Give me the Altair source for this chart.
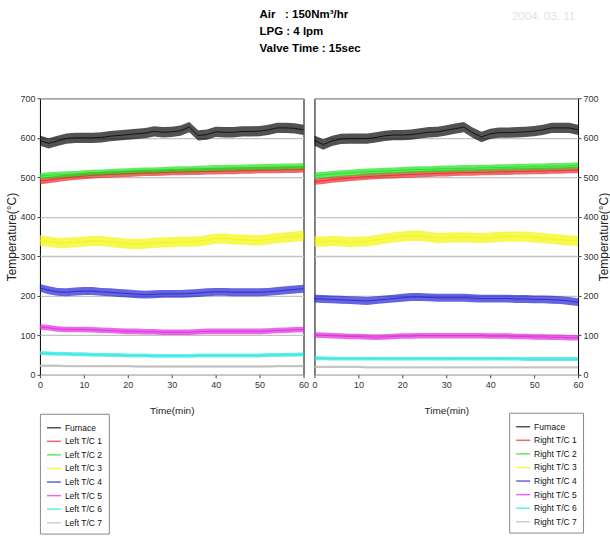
import altair as alt
import pandas as pd

# ---------------- data ----------------
TIME = [0, 2, 4, 6, 8, 10, 12, 14, 16, 18, 20, 22, 24, 26, 28, 30,
        32, 34, 36, 38, 40, 42, 44, 46, 48, 50, 52, 54, 56, 58, 60]

LEFT_NAMES = ["Furnace", "Left T/C 1", "Left T/C 2", "Left T/C 3",
              "Left T/C 4", "Left T/C 5", "Left T/C 6", "Left T/C 7"]
RIGHT_NAMES = ["Furnace", "Right T/C 1", "Right T/C 2", "Right T/C 3",
               "Right T/C 4", "Right T/C 5", "Right T/C 6", "Right T/C 7"]
COLORS = ["#000000", "#e82424", "#18e018", "#f4f400",
          "#1c1cd0", "#e020e0", "#20e4e4", "#b8b8b8"]
# half thickness of the oscillation band of each series (deg C)
SPREAD = [13, 8, 8, 13, 10, 7, 5, 3]

left_furnace = [593, 586, 592, 598, 600, 600, 600, 601, 604, 606, 608, 610, 612, 616, 614, 615,
                618, 627, 606, 608, 615, 614, 614, 616, 616, 617, 620, 625, 625, 624, 620]
left_tc1 = [490, 493, 496, 499, 501, 503, 505, 506, 507, 508, 509, 510, 511, 511, 512, 513,
            513, 514, 514, 515, 515, 516, 516, 517, 517, 518, 518, 518, 519, 519, 520]
left_tc2 = [503, 505, 506, 507, 508, 510, 511, 512, 513, 514, 515, 516, 517, 517, 518, 519,
            520, 520, 521, 522, 523, 523, 524, 524, 525, 525, 526, 526, 527, 527, 528]
left_tc3 = [340, 337, 334, 334, 336, 337, 339, 339, 336, 334, 332, 331, 332, 334, 335, 336,
            337, 337, 338, 341, 345, 345, 343, 342, 341, 340, 343, 346, 348, 350, 352]
left_tc4 = [220, 214, 210, 209, 211, 212, 212, 210, 209, 207, 206, 204, 203, 204, 205, 205,
            205, 206, 207, 209, 210, 210, 209, 209, 209, 209, 210, 212, 214, 216, 218]
left_tc5 = [121, 119, 116, 115, 115, 115, 114, 113, 112, 111, 110, 110, 109, 109, 108, 108,
            108, 108, 109, 110, 110, 110, 110, 110, 110, 110, 111, 112, 113, 114, 115]
left_tc6 = [55, 54, 53, 53, 52, 52, 51, 51, 50, 50, 49, 49, 49, 48, 48, 48,
            48, 48, 49, 49, 49, 49, 49, 49, 49, 49, 50, 50, 51, 51, 52]
left_tc7 = [23, 23, 23, 22, 22, 22, 22, 22, 22, 22, 22, 21, 21, 21, 21, 21,
            21, 21, 21, 21, 21, 21, 21, 21, 21, 21, 21, 22, 22, 22, 22]

right_furnace = [593, 583, 592, 597, 598, 598, 598, 601, 605, 607, 607, 608, 611, 614, 615, 619,
                 623, 627, 613, 602, 610, 613, 613, 614, 615, 617, 620, 625, 625, 625, 620]
right_tc1 = [489, 491, 494, 496, 498, 500, 502, 503, 504, 505, 506, 507, 508, 509, 510, 510,
             511, 512, 512, 513, 513, 514, 514, 515, 515, 516, 516, 517, 517, 518, 518]
right_tc2 = [504, 506, 508, 510, 511, 513, 514, 515, 516, 517, 518, 519, 520, 520, 521, 522,
             522, 523, 523, 524, 524, 525, 525, 526, 526, 527, 527, 528, 528, 529, 530]
right_tc3 = [338, 337, 339, 338, 336, 337, 338, 341, 345, 348, 350, 352, 352, 349, 346, 347,
             348, 348, 347, 346, 347, 349, 350, 350, 350, 348, 346, 344, 342, 340, 339]
right_tc4 = [193, 192, 191, 190, 189, 188, 187, 189, 191, 193, 195, 197, 197, 196, 195, 195,
             195, 195, 194, 193, 193, 193, 193, 192, 192, 191, 191, 190, 189, 187, 184]
right_tc5 = [101, 100, 99, 98, 97, 97, 96, 95, 96, 97, 98, 98, 99, 99, 99, 99,
             99, 99, 99, 99, 98, 98, 98, 97, 97, 96, 96, 95, 95, 94, 94]
right_tc6 = [42, 42, 41, 41, 41, 41, 41, 41, 41, 41, 41, 41, 41, 41, 41, 41,
             41, 41, 41, 41, 41, 41, 41, 41, 40, 40, 40, 40, 40, 40, 40]
right_tc7 = [20, 20, 20, 20, 20, 20, 19, 19, 19, 19, 19, 19, 19, 19, 19, 19,
             19, 19, 19, 19, 19, 19, 19, 19, 19, 19, 19, 19, 19, 19, 19]

LEFT_SERIES = [left_furnace, left_tc1, left_tc2, left_tc3, left_tc4, left_tc5, left_tc6, left_tc7]
RIGHT_SERIES = [right_furnace, right_tc1, right_tc2, right_tc3, right_tc4, right_tc5, right_tc6, right_tc7]

TITLE_LINES = ["Air\u00a0\u00a0\u00a0: 150Nm\u00b3/hr", "LPG : 4 lpm", "Valve Time : 15sec"]
DATE_TEXT = "2004. 03. 11"

X_TICKS = [0, 10, 20, 30, 40, 50, 60]
Y_TICKS = [0, 100, 200, 300, 400, 500, 600, 700]

SANS = "Liberation Sans, Arial, sans-serif"


def make_df(names, series):
    rows = []
    for order, (name, vals, hw) in enumerate(zip(names, series, SPREAD)):
        for t, v in zip(TIME, vals):
            rows.append({"t": t, "series": name, "order": order,
                         "v": v, "lo": v - hw, "hi": v + hw})
    return pd.DataFrame(rows)


def panel(names, series, orient, legend_x, legend_y, title):
    df = make_df(names, series)
    cscale = alt.Scale(domain=names, range=COLORS)
    legend = alt.Legend(orient="none", legendX=legend_x, legendY=legend_y,
                        title=None, symbolType="stroke", symbolSize=196,
                        symbolStrokeWidth=1.5, labelFont=SANS,
                        labelFontSize=8.5, labelColor="#111111",
                        padding=6, rowPadding=0.6, labelOffset=3,
                        strokeColor="#8a8a8a", fillColor="white",
                        cornerRadius=0)
    xenc = alt.X("t:Q", scale=alt.Scale(domain=[0, 60], nice=False),
                 axis=alt.Axis(values=X_TICKS, title="Time(min)", grid=False,
                               labelFlush=False, labelOverlap=False, tickSize=3,
                               domain=False, labelPadding=3, titlePadding=16))
    ybase = "bottom" if orient == "left" else "top"
    ypad = 1 if orient == "left" else 0
    yaxis = alt.Axis(orient=orient, values=Y_TICKS, title="Temperature(\u00b0C)",
                     grid=True, gridColor="#c4c4c4", gridWidth=1.3, domain=False,
                     tickSize=3, labelPadding=2, titleAngle=270, titlePadding=ypad,
                     titleBaseline=ybase, labelOverlap=False)
    yscale = alt.Scale(domain=[0, 700], nice=False)
    band = alt.Chart(df).mark_area(opacity=0.68, interpolate="linear").encode(
        x=xenc,
        y=alt.Y("lo:Q", scale=yscale, axis=yaxis, title="Temperature(\u00b0C)"),
        y2="hi:Q",
        color=alt.Color("series:N", scale=cscale, legend=legend),
        order=alt.Order("order:Q"),
    )
    line = alt.Chart(df).mark_line(strokeWidth=0.9, strokeOpacity=0.85).encode(
        x=xenc,
        y=alt.Y("v:Q", scale=yscale, axis=yaxis, title="Temperature(\u00b0C)"),
        color=alt.Color("series:N", scale=cscale, legend=legend),
        detail="series:N",
    )
    return alt.layer(band, line).properties(width=264, height=277, title=title)


left = panel(LEFT_NAMES, LEFT_SERIES, "left", 0, 316,
             alt.TitleParams(TITLE_LINES, anchor="start", frame="group", dx=220,
                             fontSize=11.5, fontWeight="bold", font=SANS, lineHeight=17,
                             offset=40, color="#000000"))
right = panel(RIGHT_NAMES, RIGHT_SERIES, "right", 195, 315,
              alt.TitleParams(DATE_TEXT, anchor="end", frame="group", dx=-3, fontSize=11.5,
                              fontWeight="normal", font=SANS, color="#e2e2e2", offset=72))

chart = alt.hconcat(left, right, spacing=11, bounds="flush").resolve_scale(
    color="independent"
).configure_view(
    stroke="#000000", strokeWidth=1
).configure_axis(
    labelFont=SANS, labelFontSize=9, labelColor="#333333",
    titleFont=SANS, titleFontSize=10, titleFontWeight="normal", titleColor="#222222",
    tickColor="#444444"
).configure_axisY(
    titleFontSize=12
).properties(
    padding={"left": 5, "top": 8, "right": 0, "bottom": 0},
    background="white"
)

chart.save("out.html", embed_options={"renderer": "svg", "actions": False})
